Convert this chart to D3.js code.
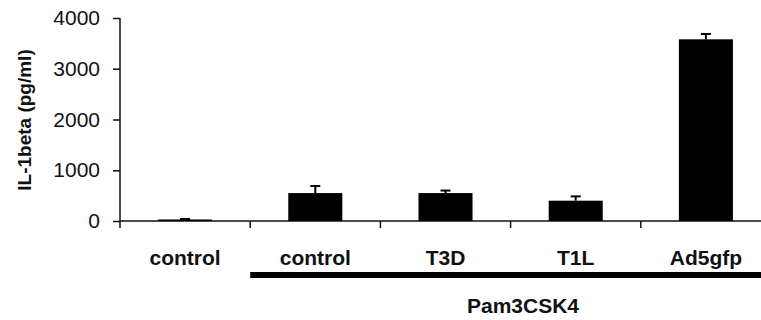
<!DOCTYPE html>
<html>
<head>
<meta charset="utf-8">
<script src="https://cdn.jsdelivr.net/npm/d3@7"></script>
<style>
  body { margin: 0; background: #fff; }
  text { font-family: "Liberation Sans", Arial, sans-serif; fill: #111; }
</style>
</head>
<body>
<svg width="761" height="320"></svg>
<script>
// data
const categories = ["control", "control", "T3D", "T1L", "Ad5gfp"];
const values = [30, 550, 550, 400, 3580];
const errors = [10, 140, 50, 85, 105];
const yTicks = [0, 1000, 2000, 3000, 4000];
const groupLabel = "Pam3CSK4";

const svg = d3.select("svg");
const x0 = 120, x1 = 771, yTop = 18, yBottom = 221;

const x = d3.scaleBand()
  .domain(d3.range(categories.length))
  .range([x0, x1])
  .paddingInner(0.585)
  .paddingOuter(0.2925);

const y = d3.scaleLinear().domain([0, 4000]).range([yBottom, yTop]);

// y axis
const yAxis = svg.append("g")
  .attr("transform", "translate(" + x0 + ",0)")
  .call(d3.axisLeft(y).tickValues(yTicks).tickFormat(d3.format("d")).tickSize(7).tickPadding(13));
yAxis.select(".domain").attr("d", "M0," + yTop + "V" + (yBottom + 7)).attr("stroke", "#111").attr("stroke-width", 1.5);
yAxis.selectAll(".tick line").attr("stroke", "#111").attr("stroke-width", 1.5);
yAxis.selectAll(".tick text").attr("font-size", 21).style("font-family", "Liberation Sans, Arial, sans-serif").attr("fill", "#1a1a1a");

// x axis baseline + ticks at band boundaries
svg.append("line")
  .attr("x1", x0).attr("x2", 761)
  .attr("y1", yBottom).attr("y2", yBottom)
  .attr("stroke", "#111").attr("stroke-width", 1.5);
svg.selectAll(".xtick")
  .data(d3.range(1, categories.length))
  .enter().append("line")
  .attr("class", "xtick")
  .attr("x1", i => x0 + i * x.step()).attr("x2", i => x0 + i * x.step())
  .attr("y1", yBottom).attr("y2", yBottom + 7)
  .attr("stroke", "#111").attr("stroke-width", 1.5);

// bars
svg.selectAll(".bar")
  .data(values)
  .enter().append("rect")
  .attr("class", "bar")
  .attr("x", (d, i) => x(i))
  .attr("width", x.bandwidth())
  .attr("y", d => y(d))
  .attr("height", d => yBottom - y(d))
  .attr("fill", "#000");

// error bars (upper only)
const eb = svg.selectAll(".err")
  .data(values.map((v, i) => ({ v: v, e: errors[i], i: i })))
  .enter().append("g").attr("class", "err");
eb.append("line")
  .attr("x1", d => x(d.i) + x.bandwidth() / 2).attr("x2", d => x(d.i) + x.bandwidth() / 2)
  .attr("y1", d => y(d.v)).attr("y2", d => y(d.v + d.e))
  .attr("stroke", "#000").attr("stroke-width", 2);
eb.append("line")
  .attr("x1", d => x(d.i) + x.bandwidth() / 2 - 5).attr("x2", d => x(d.i) + x.bandwidth() / 2 + 5)
  .attr("y1", d => y(d.v + d.e)).attr("y2", d => y(d.v + d.e))
  .attr("stroke", "#000").attr("stroke-width", 2);

// category labels
svg.selectAll(".cat")
  .data(categories)
  .enter().append("text")
  .attr("class", "cat")
  .attr("x", (d, i) => x(i) + x.bandwidth() / 2)
  .attr("y", 265)
  .attr("text-anchor", "middle")
  .attr("font-size", 21)
  .attr("font-weight", "bold")
  .text(d => d);

// group bar + label
svg.append("rect")
  .attr("x", x0 + x.step()).attr("y", 272)
  .attr("width", 761 - x0 - x.step()).attr("height", 6)
  .attr("fill", "#000");
svg.append("text")
  .attr("x", 523).attr("y", 313)
  .attr("text-anchor", "middle")
  .attr("font-size", 21)
  .attr("font-weight", "bold")
  .text(groupLabel);

// y axis label
svg.append("text")
  .attr("transform", "translate(31,120) rotate(-90)")
  .attr("text-anchor", "middle")
  .attr("font-size", 19)
  .attr("font-weight", "bold")
  .text("IL-1beta (pg/ml)");
</script>
</body>
</html>
